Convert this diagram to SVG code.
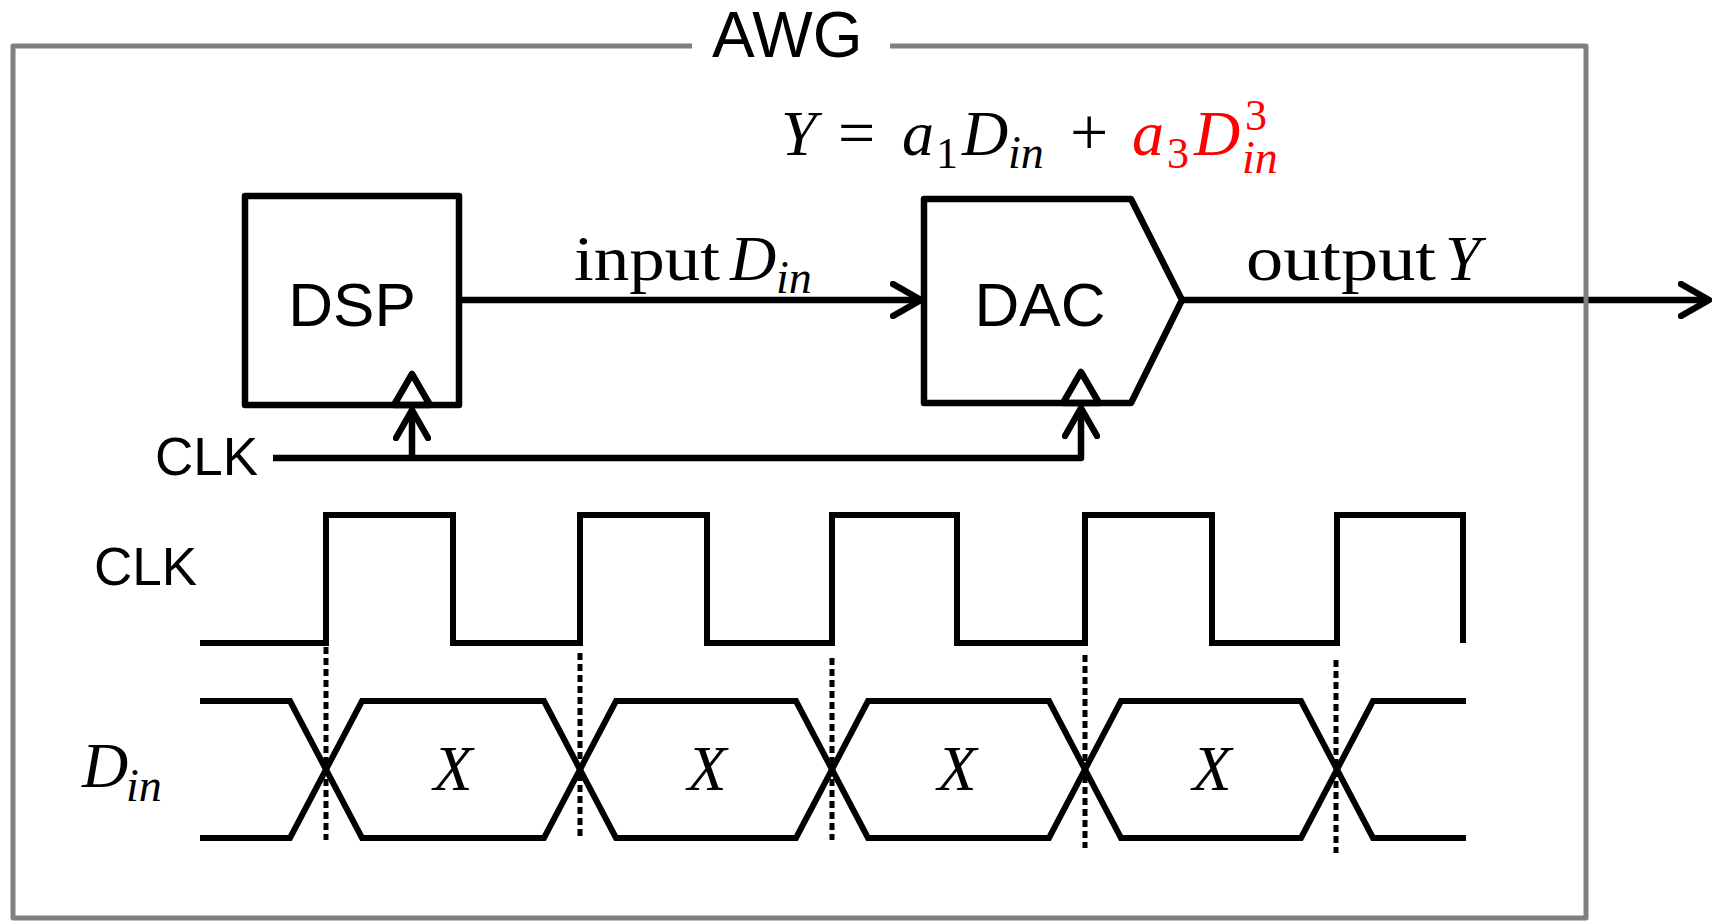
<svg xmlns="http://www.w3.org/2000/svg" width="1713" height="921" viewBox="0 0 1713 921">
<style>
.sans{font-family:"Liberation Sans",Arial,sans-serif;fill:#000}
.serif{font-family:"Liberation Serif","Times New Roman",serif;fill:#000}
.it{font-style:italic}
.red{fill:#ff0000}
.blk{fill:none;stroke:#000;stroke-width:6.5;stroke-linejoin:round}
.wave{fill:none;stroke:#000;stroke-width:6;stroke-linejoin:miter}
.dot{fill:none;stroke:#000;stroke-width:5;stroke-dasharray:7 4}
.frame{fill:none;stroke:#808080;stroke-width:5;stroke-linejoin:round}
</style>
<defs>
<marker id="arr" viewBox="0 0 34 38" refX="31" refY="19" markerWidth="34" markerHeight="38" orient="auto" markerUnits="userSpaceOnUse">
<path d="M3,3 L31,19 L3,35" fill="none" stroke="#000" stroke-width="6.5" stroke-linecap="round" stroke-linejoin="round"/>
</marker>
</defs>
<rect width="1713" height="921" fill="#fff"/>

<g id="equation">
<text class="serif it" x="781" y="155" font-size="64">Y</text>
<text class="serif" x="838" y="155" font-size="66">=</text>
<text class="serif it" x="902" y="155" font-size="64">a</text>
<text class="serif" x="936" y="168" font-size="44">1</text>
<text class="serif it" x="962" y="155" font-size="64">D</text>
<text class="serif it" x="1008" y="168" font-size="46">in</text>
<text class="serif" x="1070" y="155" font-size="68">+</text>
<text class="serif it red" x="1132" y="155" font-size="64">a</text>
<text class="serif red" x="1167" y="168" font-size="44">3</text>
<text class="serif it red" x="1194" y="155" font-size="64">D</text>
<text class="serif red" x="1245" y="130" font-size="44">3</text>
<text class="serif it red" x="1242" y="173" font-size="46">in</text>
</g>

<g id="dsp">
<rect class="blk" x="245" y="196" width="214" height="209"/>
<polygon class="blk" points="394,405 412,374 430,405"/>
<text class="sans" x="352" y="326" font-size="62" text-anchor="middle">DSP</text>
</g>

<g id="dac">
<polygon class="blk" points="924,199 1131,199 1182,300 1131,403 924,403"/>
<polygon class="blk" points="1063,403 1081,372 1099,403"/>
<text class="sans" x="1040" y="326" font-size="62" text-anchor="middle">DAC</text>
</g>

<g id="clk-input">
<text class="sans" x="155" y="475" font-size="53">CLK</text>
</g>

<g id="connectors">
<path class="blk" d="M459,300 L921,300" marker-end="url(#arr)"/>
<path class="blk" d="M1182,300 L1709,300" marker-end="url(#arr)"/>
<path class="blk" d="M273,458 L1081,458 L1081,408" marker-end="url(#arr)"/>
<path class="blk" d="M412,458 L412,410" marker-end="url(#arr)"/>
<text class="serif" x="574" y="280" font-size="64" textLength="146" lengthAdjust="spacingAndGlyphs">input</text>
<text class="serif it" x="730" y="280" font-size="64">D</text>
<text class="serif it" x="776" y="293" font-size="46">in</text>
<text class="serif" x="1246" y="280" font-size="64" textLength="190" lengthAdjust="spacingAndGlyphs">output</text>
<text class="serif it" x="1445" y="280" font-size="64">Y</text>
</g>

<g id="timing">
<text class="sans" x="94" y="585" font-size="53">CLK</text>
<text class="serif it" x="82" y="787" font-size="64">D</text>
<text class="serif it" x="126" y="801" font-size="46">in</text>
<path class="wave" d="M200,643 L326,643 L326,515 L453,515 L453,643 L580,643 L580,515 L707,515 L707,643 L832,643 L832,515 L957,515 L957,643 L1085,643 L1085,515 L1212,515 L1212,643 L1337,643 L1337,515 L1463,515 L1463,643"/>
<path class="wave" d="M200,701 L290,701 L362,838 L544,838 L616,701 L796,701 L868,838 L1049,838 L1121,701 L1301,701 L1373,838 L1466,838"/>
<path class="wave" d="M200,838 L290,838 L362,701 L544,701 L616,838 L796,838 L868,701 L1049,701 L1121,838 L1301,838 L1373,701 L1466,701"/>
<path class="dot" d="M326,647 L326,840"/>
<path class="dot" d="M580,653 L580,838"/>
<path class="dot" d="M832,658 L832,840"/>
<path class="dot" d="M1085,655 L1085,848"/>
<path class="dot" d="M1336,660 L1336,853"/>
<text class="serif it" x="453" y="790" font-size="64" text-anchor="middle">X</text>
<text class="serif it" x="707" y="790" font-size="64" text-anchor="middle">X</text>
<text class="serif it" x="957" y="790" font-size="64" text-anchor="middle">X</text>
<text class="serif it" x="1212" y="790" font-size="64" text-anchor="middle">X</text>
</g>

<g id="awg">
<path class="frame" d="M692,46 L13,46 L13,918 L1586,918 L1586,46 L890,46"/>
<text class="sans" x="712" y="57" font-size="64">AWG</text>
</g>
</svg>
